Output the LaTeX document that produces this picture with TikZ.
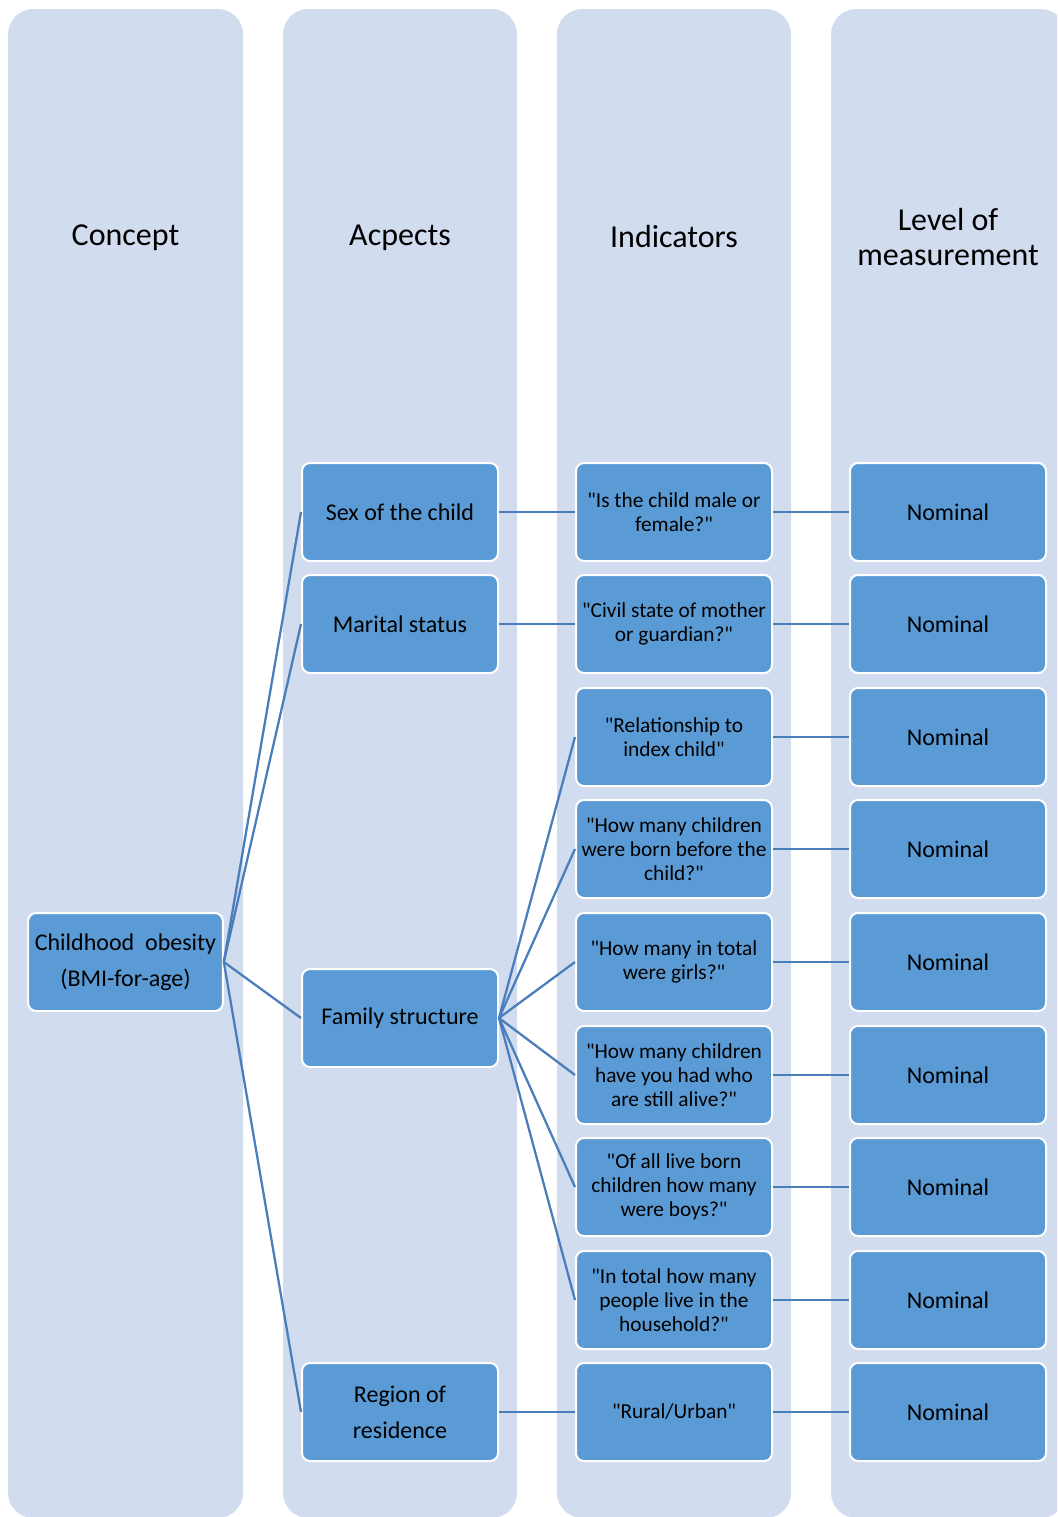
\documentclass[tikz,border=0pt]{standalone}
\usepackage{fontspec}
\setmainfont{Carlito}[Ligatures=TeXOff]
\newcommand{\dq}{"}
\definecolor{colbg}{RGB}{209,220,238}
\definecolor{boxfill}{RGB}{91,155,213}
\definecolor{linkcol}{RGB}{74,126,187}
\begin{document}
\begin{tikzpicture}[x=0.75pt,y=-0.75pt,
  colbox/.style={fill=colbg,draw=none,rounded corners=19pt},
  header/.style={font=\fontsize{24}{26.5}\selectfont,align=center,text=black,inner sep=0pt},
  item/.style={rectangle,rounded corners=6pt,fill=boxfill,draw=white,line width=1.5pt,
    minimum width=147pt,minimum height=73.5pt,inner sep=1pt,align=center,
    font=\fontsize{18}{22}\selectfont,text=black},
  ind/.style={font=\fontsize{16}{18}\selectfont},
  loose/.style={font=\fontsize{18}{27}\selectfont},
  link/.style={draw=linkcol,line width=1.7pt}]
\useasboundingbox (0,0) rectangle (1057,1517);
\begin{scope}
\clip (0,0) rectangle (1057,1517);
\path[colbox] (8,9) rectangle (243,1518);
\path[colbox] (283,9) rectangle (517,1518);
\path[colbox] (557,9) rectangle (791,1518);
\path[colbox] (831,9) rectangle (1066,1518);
\end{scope}
\node[header] (h1) at (125.5,238) {Concept};
\node[header] (h2) at (400,238) {Acpects};
\node[header] (h3) at (674,237) {Indicators};
\node[header] (h4) at (948,237) {Level of\\measurement};

\node[item,loose,minimum width=146pt] (c) at (125.5,962) {Childhood\ \ obesity\\(BMI-for-age)};

\node[item] (a1) at (400,512) {Sex of the child};
\node[item] (a2) at (400,624) {Marital status};
\node[item] (a3) at (400,1018) {Family structure};
\node[item,loose] (a4) at (400,1412) {Region of\\residence};

\node[item,ind] (i1) at (674,512) {\dq Is the child male or\\female?\dq};
\node[item,ind] (i2) at (674,624) {\dq Civil state of mother\\or guardian?\dq};
\node[item,ind] (i3) at (674,737) {\dq Relationship to\\index child\dq};
\node[item,ind] (i4) at (674,849) {\dq How many children\\were born before the\\child?\dq};
\node[item,ind] (i5) at (674,962) {\dq How many in total\\were girls?\dq};
\node[item,ind] (i6) at (674,1075) {\dq How many children\\have you had who\\are still alive?\dq};
\node[item,ind] (i7) at (674,1187) {\dq Of all live born\\children how many\\were boys?\dq};
\node[item,ind] (i8) at (674,1300) {\dq In total how many\\people live in the\\household?\dq};
\node[item,ind] (i9) at (674,1412) {\dq Rural/Urban\dq};

\foreach \k/\yy in {1/512,2/624,3/737,4/849,5/962,6/1075,7/1187,8/1300,9/1412}{
  \node[item] (n\k) at (948,\yy) {Nominal};
}

\foreach \a in {a1,a2,a3,a4}{\draw[link] (c.east) -- (\a.west);}
\draw[link] (a1.east) -- (i1.west);
\draw[link] (a2.east) -- (i2.west);
\foreach \i in {i3,i4,i5,i6,i7,i8}{\draw[link] (a3.east) -- (\i.west);}
\draw[link] (a4.east) -- (i9.west);
\foreach \k in {1,...,9}{\draw[link] (i\k.east) -- (n\k.west);}
\end{tikzpicture}
\end{document}
